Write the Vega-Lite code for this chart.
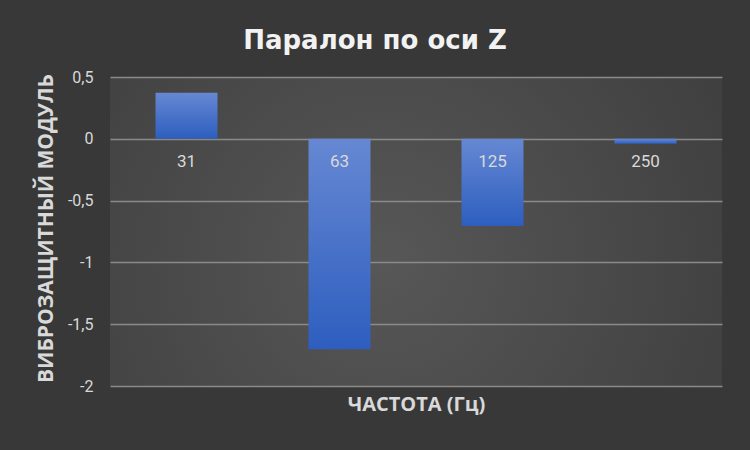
{
  "$schema": "https://vega.github.io/schema/vega-lite/v6.json",
  "width": 612,
  "height": 309,
  "autosize": {"type": "none"},
  "padding": {"left": 110, "top": 77, "right": 28, "bottom": 64},
  "background": "#383838",
  "title": {
    "text": "Паралон по оси Z",
    "font": "DejaVu Sans",
    "fontSize": 26,
    "fontWeight": "bold",
    "color": "#f2f2f2",
    "anchor": "middle",
    "frame": "group",
    "baseline": "alphabetic",
    "offset": -6,
    "dx": -41
  },
  "data": {
    "values": [
      {"freq": "31", "value": 0.373},
      {"freq": "63", "value": -1.703},
      {"freq": "125", "value": -0.705},
      {"freq": "250", "value": -0.04}
    ]
  },
  "encoding": {
    "x": {
      "field": "freq",
      "type": "nominal",
      "sort": null,
      "scale": {"paddingInner": 0.595, "paddingOuter": 0.2975},
      "axis": {
        "title": "ЧАСТОТА  (Гц)",
        "labels": false,
        "ticks": false,
        "domain": false,
        "grid": false,
        "titleFont": "Open Sans",
        "titleFontSize": 20,
        "titleFontWeight": "bold",
        "titleColor": "#d9d9d9",
        "titlePadding": 8
      }
    }
  },
  "layer": [
    {
      "mark": {
        "type": "bar",
        "color": {
          "gradient": "linear",
          "x1": 0, "y1": 0, "x2": 0, "y2": 1,
          "stops": [
            {"offset": 0, "color": "#6688d3"},
            {"offset": 1, "color": "#2d5ebf"}
          ]
        }
      },
      "encoding": {
        "y": {
          "field": "value",
          "type": "quantitative",
          "scale": {"domain": [-2, 0.5], "nice": false, "zero": false},
          "axis": {
            "title": "ВИБРОЗАЩИТНЫЙ МОДУЛЬ",
            "values": [-2, -1.5, -1, -0.5, 0, 0.5],
            "labelExpr": "replace(toString(datum.value), '.', ',')",
            "domain": false,
            "ticks": false,
            "labelPadding": 17,
            "labelFont": "Liberation Sans Narrow, Roboto",
            "labelFontSize": 16,
            "labelColor": "#d9d9d9",
            "gridColor": "#8a8a8a",
            "gridWidth": 1.5,
            "titleFont": "Open Sans",
            "titleFontSize": 21,
            "titleFontWeight": "bold",
            "titleColor": "#d9d9d9",
            "titleAngle": -90,
            "titleX": -64,
            "titleY": 151,
            "titleAlign": "center",
            "titleBaseline": "middle"
          }
        }
      }
    },
    {
      "mark": {
        "type": "text",
        "dy": 23,
        "font": "Liberation Sans Narrow, Roboto",
        "fontSize": 17,
        "color": "#d9d9d9",
        "baseline": "middle",
        "align": "center"
      },
      "encoding": {
        "y": {"datum": 0, "type": "quantitative"},
        "text": {"field": "freq"}
      }
    }
  ],
  "config": {
    "view": {
      "stroke": null,
      "fill": {
        "gradient": "radial",
        "x1": 0.45, "y1": 0.55, "r1": 0,
        "x2": 0.45, "y2": 0.55, "r2": 0.75,
        "stops": [
          {"offset": 0, "color": "#575757"},
          {"offset": 0.7, "color": "#434343"},
          {"offset": 1, "color": "#3b3b3b"}
        ]
      }
    }
  }
}
